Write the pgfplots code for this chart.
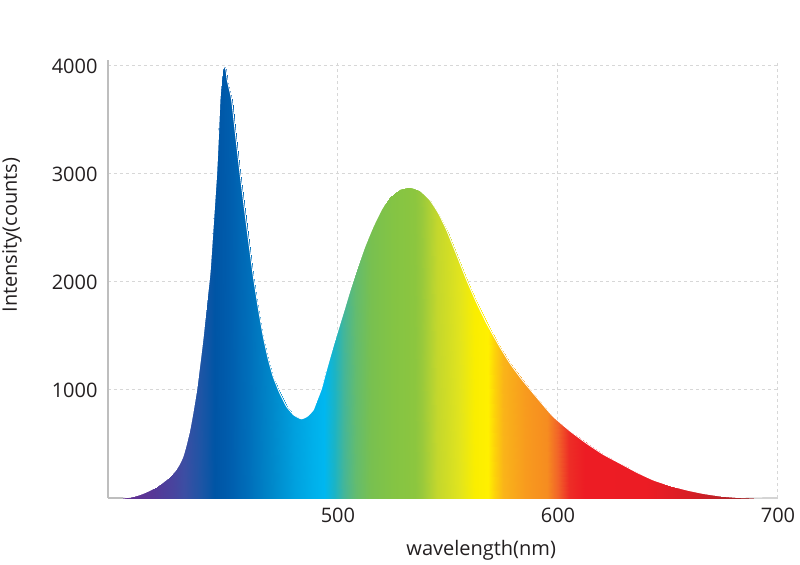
\documentclass[border=0pt]{standalone}
\usepackage{pgfplots}
\usepackage{pgfplotstable}
\pgfplotsset{compat=1.18}
\usepackage{fontspec}
\setmainfont{Open Sans}
\definecolor{axgray}{RGB}{190,190,190}
\definecolor{gridgray}{RGB}{215,215,215}
\definecolor{txt}{RGB}{35,31,32}
\pgfplotsset{colormap={spectrum}{
 rgb255(0pt)=(102,45,145);
 rgb255(15pt)=(88,55,150);
 rgb255(25pt)=(72,68,158);
 rgb255(30pt)=(60,78,163);
 rgb255(38pt)=(28,85,165);
 rgb255(44pt)=(0,85,165);
 rgb255(50pt)=(0,92,172);
 rgb255(60pt)=(0,112,187);
 rgb255(70pt)=(0,136,202);
 rgb255(80pt)=(0,160,222);
 rgb255(90pt)=(0,178,236);
 rgb255(94pt)=(0,183,240);
 rgb255(98pt)=(25,180,200);
 rgb255(103pt)=(70,182,150);
 rgb255(108pt)=(100,188,110);
 rgb255(115pt)=(120,192,80);
 rgb255(125pt)=(132,196,68);
 rgb255(135pt)=(140,198,63);
 rgb255(138pt)=(152,201,60);
 rgb255(145pt)=(195,215,45);
 rgb255(155pt)=(225,228,30);
 rgb255(162pt)=(250,238,0);
 rgb255(168pt)=(255,240,0);
 rgb255(171pt)=(253,210,10);
 rgb255(175pt)=(250,180,25);
 rgb255(185pt)=(248,155,30);
 rgb255(195pt)=(246,140,32);
 rgb255(200pt)=(242,100,40);
 rgb255(205pt)=(237,45,38);
 rgb255(212pt)=(237,28,36);
 rgb255(240pt)=(236,28,36);
 rgb255(260pt)=(215,30,38);
 rgb255(280pt)=(175,35,40);
 rgb255(300pt)=(130,50,50)
}}
\pgfplotstableread{
x y
402.4 0
406 10
409 25
411.5 43
414.5 70
417.6 105
420.5 145
423.6 197
426.2 255
428.2 321
429.6 385
430.8 470
432.7 630
434.3 810
435.8 1000
437.3 1240
438.8 1494
440.3 1790
441.9 2090
443.4 2540
444.9 3006
445.7 3350
446.4 3685
447.1 3870
447.6 3963
448.3 4000
449.1 3963
449.7 3870
450.6 3790
451.7 3685
453.6 3340
455.5 3006
458.5 2520
461.5 2060
463.8 1760
466.1 1494
468.3 1290
470.6 1123
473.6 970
476.7 846
480.0 768
483.3 733
486.0 755
488.8 815
490.3 895
492.5 1010
494.8 1185
498.5 1450
502.4 1710
505.5 1920
508.5 2111
512.3 2330
516.0 2512
519.8 2670
523.6 2790
528.2 2858
532.7 2877
537.3 2846
541.8 2759
545.6 2640
549.4 2481
554.0 2250
558.5 2019
563.0 1810
567.6 1617
573.0 1420
578.2 1247
583.5 1100
588.8 969
593.5 855
597.9 753
605.5 620
613.0 506
620.5 405
628.2 321
635.8 238
643.3 167
651.0 115
658.5 74
666.0 42
673.6 19
681.0 6
688.8 1
700.0 0
}\spectrum
\begin{document}
\begin{tikzpicture}
\useasboundingbox (-54pt,-33pt) rectangle (346pt,249pt);
\begin{axis}[
  scale only axis, width=335pt, height=219pt,
  xmin=395.5, xmax=700, ymin=0, ymax=4055,
  xtick={500,600,700}, ytick={1000,2000,3000,4000},
  major tick length=0pt,
  grid=major,
  major grid style={draw=gridgray, line width=0.5pt, dash pattern=on 1.5pt off 1.5pt},
  axis x line*=bottom, axis y line*=left,
  axis line style={-, draw=axgray, line width=0.8pt},
  /pgf/number format/1000 sep={},
  /pgf/number format/assume math mode=true,
  tick label style={font=\fontsize{10}{12}\selectfont, text=txt},
  yticklabel style={anchor=east, xshift=-1.7pt},
  xticklabel style={anchor=north, yshift=-1.7pt},
  xlabel={wavelength(nm)},
  ylabel={Intensity(counts)},
  label style={font=\fontsize{10}{12}\selectfont, text=txt},
  xlabel style={at={(axis description cs:0.557,-0.1187)}, anchor=center},
  ylabel style={at={(axis description cs:-0.1433,0.600)}, anchor=center},
  colormap name=spectrum,
  point meta min=400, point meta max=700,
]
% gradient fill: two scanlines, baseline (y=0) then the curve
\addplot[surf, shader=interp, point meta=x, draw=none] table {
x y
402.4 0
406 0
409 0
411.5 0
414.5 0
417.6 0
420.5 0
423.6 0
426.2 0
428.2 0
429.6 0
430.8 0
432.7 0
434.3 0
435.8 0
437.3 0
438.8 0
440.3 0
441.9 0
443.4 0
444.9 0
445.7 0
446.4 0
447.1 0
447.6 0
448.3 0
449.1 0
449.7 0
450.6 0
451.7 0
453.6 0
455.5 0
458.5 0
461.5 0
463.8 0
466.1 0
468.3 0
470.6 0
473.6 0
476.7 0
480.0 0
483.3 0
486.0 0
488.8 0
490.3 0
492.5 0
494.8 0
498.5 0
502.4 0
505.5 0
508.5 0
512.3 0
516.0 0
519.8 0
523.6 0
528.2 0
532.7 0
537.3 0
541.8 0
545.6 0
549.4 0
554.0 0
558.5 0
563.0 0
567.6 0
573.0 0
578.2 0
583.5 0
588.8 0
593.5 0
597.9 0
605.5 0
613.0 0
620.5 0
628.2 0
635.8 0
643.3 0
651.0 0
658.5 0
666.0 0
673.6 0
681.0 0
688.8 0
700.0 0

402.4 0
406 10
409 25
411.5 43
414.5 70
417.6 105
420.5 145
423.6 197
426.2 255
428.2 321
429.6 385
430.8 470
432.7 630
434.3 810
435.8 1000
437.3 1240
438.8 1494
440.3 1790
441.9 2090
443.4 2540
444.9 3006
445.7 3350
446.4 3685
447.1 3870
447.6 3963
448.3 4000
449.1 3963
449.7 3870
450.6 3790
451.7 3685
453.6 3340
455.5 3006
458.5 2520
461.5 2060
463.8 1760
466.1 1494
468.3 1290
470.6 1123
473.6 970
476.7 846
480.0 768
483.3 733
486.0 755
488.8 815
490.3 895
492.5 1010
494.8 1185
498.5 1450
502.4 1710
505.5 1920
508.5 2111
512.3 2330
516.0 2512
519.8 2670
523.6 2790
528.2 2858
532.7 2877
537.3 2846
541.8 2759
545.6 2640
549.4 2481
554.0 2250
558.5 2019
563.0 1810
567.6 1617
573.0 1420
578.2 1247
583.5 1100
588.8 969
593.5 855
597.9 753
605.5 620
613.0 506
620.5 405
628.2 321
635.8 238
643.3 167
651.0 115
658.5 74
666.0 42
673.6 19
681.0 6
688.8 1
700.0 0
};
% thin white edge to smooth the outline of the shading
\addplot[white, line width=0.45pt, line join=round, smooth, tension=0.3] table {\spectrum};
\end{axis}
\end{tikzpicture}
\end{document}
